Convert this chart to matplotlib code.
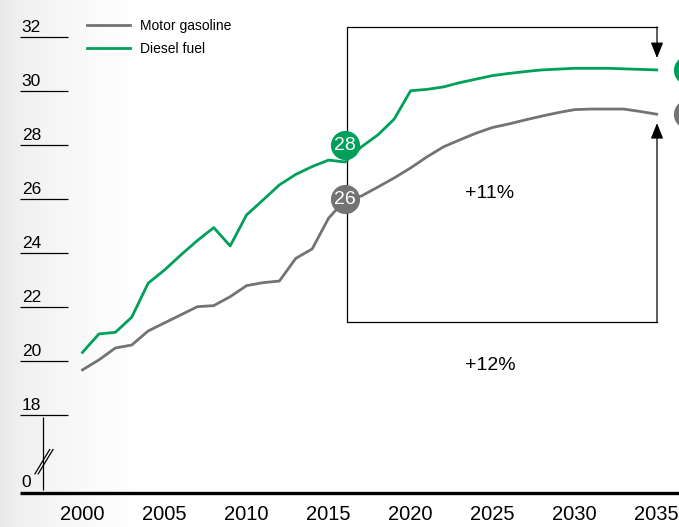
import numpy as np
import matplotlib
matplotlib.use("Agg")
import matplotlib.pyplot as plt

plt.rcParams['font.family'] = ['Liberation Sans Narrow', 'Liberation Sans', 'DejaVu Sans']

# average fuel economy, history to 2016 then projection to 2035
years = list(range(2000, 2036))
gasoline = [19.67, 20.04, 20.48, 20.59, 21.11, 21.41, 21.71, 22.01, 22.05, 22.38,
            22.79, 22.90, 22.96, 23.80, 24.15, 25.29, 25.96,
            26.11, 26.44, 26.78, 27.15, 27.56, 27.93, 28.19, 28.44, 28.65,
            28.78, 28.93, 29.07, 29.20, 29.31, 29.33, 29.33, 29.33, 29.24, 29.14]
diesel = [20.32, 21.00, 21.06, 21.62, 22.88, 23.37, 23.93, 24.46, 24.94, 24.26,
          25.41, 25.96, 26.52, 26.91, 27.20, 27.44, 27.37,
          27.93, 28.37, 28.96, 30.01, 30.06, 30.15, 30.31, 30.44, 30.57,
          30.65, 30.72, 30.78, 30.81, 30.84, 30.84, 30.84, 30.82, 30.80, 30.78]

base_year = 2016
base_vals = {'gas': 26, 'diesel': 28}
growth = {'gas': '+12%', 'diesel': '+11%'}

ytick_vals = [18, 20, 22, 24, 26, 28, 30, 32]
xtick_vals = [2000, 2005, 2010, 2015, 2020, 2025, 2030, 2035]

GREEN = '#00a05a'
GRAY = '#737373'

fig = plt.figure(figsize=(6.79, 5.27), dpi=100)
ax = fig.add_axes([0, 0, 1, 1])
ax.set_xlim(1994.97, 2036.36)
ax.set_ylim(13.85, 33.37)
ax.axis('off')

# soft grey shading on the left edge
grad = np.linspace(0, 1, 256)
shade = 0.905 + 0.095 * np.sqrt(grad)
img = np.stack([shade, shade, shade], axis=-1)[None, :, :]
img = np.repeat(img, 2, axis=0)
ax.imshow(img, extent=[1994.97, 2003.5, 13.85, 33.37], aspect='auto', zorder=0)

# y axis: short underline under each label, broken axis down to zero
ax.hlines(ytick_vals, 1996.2, 1999.1, color='black', lw=0.9, zorder=2)
for v in ytick_vals:
    ax.text(1996.3, v + 0.06, str(v), fontsize=12.5, ha='left', va='bottom', zorder=3)
ax.text(1996.3, 15.22, '0', fontsize=12.5, ha='left', va='bottom', zorder=3)
ax.vlines(1997.59, 15.22, 17.93, color='black', lw=0.9, zorder=2)
for dx in (0.0, 0.2):
    ax.plot([1997.1 + dx, 1998.0 + dx], [15.82, 16.72], color='black', lw=0.9, zorder=3)

# x axis baseline and year labels
ax.hlines(15.11, 1996.2, 2036.36, color='black', lw=2.4, zorder=2)
for yr in xtick_vals:
    ax.text(yr, 14.3, str(yr), fontsize=14.5, ha='center', va='center', zorder=3)

ax.plot(years, gasoline, color=GRAY, lw=2.0, zorder=4, label='Motor gasoline')
ax.plot(years, diesel, color=GREEN, lw=2.0, zorder=4, label='Diesel fuel')

leg = ax.legend(loc='upper left', bbox_to_anchor=(0.128, 0.964), frameon=False,
                fontsize=10, handlelength=3.1, handletextpad=0.75,
                labelspacing=0.65, borderpad=0, borderaxespad=0)

# growth bracket from 2016 to 2035
box_l, box_r = 2016.13, 2035.02
box_top, box_bot = 32.37, 21.44
ax.plot([box_r, box_l, box_l, box_r], [box_top, box_top, box_bot, box_bot],
        color='black', lw=0.9, zorder=3)
arrow = dict(arrowstyle='-|>,head_length=0.95,head_width=0.38', color='black',
             lw=0.9, shrinkA=0, shrinkB=0, mutation_scale=10)
ax.annotate('', xy=(box_r, 31.22), xytext=(box_r, box_top), arrowprops=arrow, zorder=3)
ax.annotate('', xy=(box_r, 28.81), xytext=(box_r, box_bot), arrowprops=arrow, zorder=3)
ax.text(2024.84, 26.22, growth['diesel'], fontsize=14, ha='center', va='center')
ax.text(2024.84, 19.85, growth['gas'], fontsize=14, ha='center', va='center')

# value bubbles at the start of the projection and past the line ends
for key, col, series in (('diesel', GREEN, diesel), ('gas', GRAY, gasoline)):
    ax.plot(base_year, base_vals[key], 'o', ms=21, color=col, mec='none', zorder=5)
    ax.text(base_year, base_vals[key] - 0.02, str(base_vals[key]), color='white',
            fontsize=14, ha='center', va='center', zorder=6)
    ax.plot(years[-1] + 1.9, series[-1], 'o', ms=21, color=col, mec='none',
            zorder=5, clip_on=False)

fig.savefig('out.png', dpi=100)
